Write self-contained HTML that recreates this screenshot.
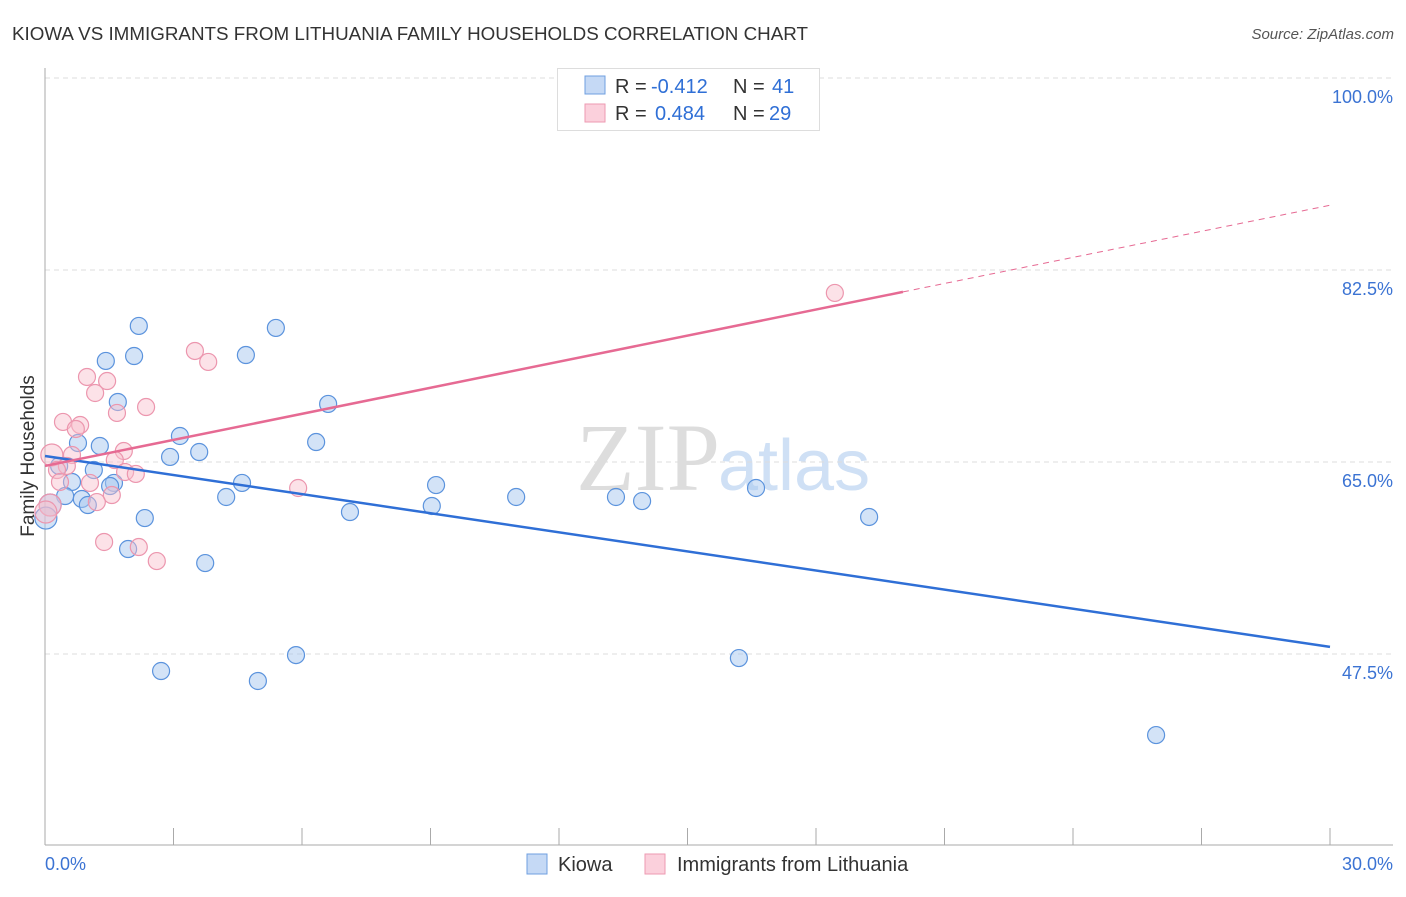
<!DOCTYPE html>
<html><head><meta charset="utf-8"><style>
body{margin:0;background:#fff;font-family:"Liberation Sans",sans-serif}
</style></head><body>
<svg id="chart" width="1406" height="892" xmlns="http://www.w3.org/2000/svg">
<text x="12" y="40" font-size="18" fill="#333" textLength="796" lengthAdjust="spacingAndGlyphs">KIOWA VS IMMIGRANTS FROM LITHUANIA FAMILY HOUSEHOLDS CORRELATION CHART</text>
<text x="1394" y="39" font-size="15" fill="#555" font-style="italic" text-anchor="end">Source: ZipAtlas.com</text>
<text x="720" y="490" font-size="96" fill="#ddd" text-anchor="end" font-family="Liberation Serif">ZIP</text>
<text x="718" y="490" font-size="72" fill="#cfe0f5">atlas</text>
<g id="grid"></g><g id="axes"></g><g id="marks"></g>
<text transform="translate(34,456) rotate(-90)" font-size="19" fill="#333" text-anchor="middle">Family Households</text>
<g>
<rect x="557.5" y="68.5" width="262" height="62" fill="#fff" stroke="#ddd"/>
<rect x="585" y="76" width="20" height="18" fill="#c5d9f5" stroke="#6f9fe0"/>
<rect x="585" y="104" width="20" height="18" fill="#fbd0dc" stroke="#ee9ab2"/>
<text x="615" y="93" font-size="20" fill="#333">R = <tspan x="651" fill="#2f6fd6">-0.412</tspan><tspan x="733">N = </tspan><tspan x="772" fill="#2f6fd6">41</tspan></text>
<text x="615" y="120" font-size="20" fill="#333">R = <tspan x="655" fill="#2f6fd6">0.484</tspan><tspan x="733">N = </tspan><tspan x="769" fill="#2f6fd6">29</tspan></text>
</g>
<g>
<rect x="527" y="854" width="20" height="20" fill="#c5d9f5" stroke="#6f9fe0"/>
<text x="558" y="871" font-size="20" fill="#333">Kiowa</text>
<rect x="645" y="854" width="20" height="20" fill="#fbd0dc" stroke="#ee9ab2"/>
<text x="677" y="871" font-size="20" fill="#333">Immigrants from Lithuania</text>
</g>
</svg>
<script>
const yTicks=[100,82.5,65,47.5];
const yTickLabels=["100.0%","82.5%","65.0%","47.5%"];
const xTickVals=[0,3,6,9,12,15,18,21,24,27,30];
const kiowaX=[2.19,5.39,1.42,2.08,4.69,1.70,6.61,3.15,0.77,1.28,6.33,2.92,3.60,1.14,0.33,0.63,1.61,1.52,4.60,9.13,16.60,0.47,0.86,1.00,4.23,11.00,13.33,13.94,9.03,7.12,2.33,19.24,0.12,0.02,1.94,3.74,5.86,16.20,2.71,4.97,25.94];
const kiowaY=[77.40,77.22,74.21,74.66,74.75,70.47,70.29,67.37,66.73,66.46,66.82,65.46,65.91,64.27,64.64,63.18,63.09,62.81,63.09,62.90,62.63,61.90,61.63,61.08,61.81,61.81,61.81,61.44,60.99,60.44,59.89,59.99,61.08,59.89,57.07,55.79,47.40,47.13,45.95,45.04,40.11];
const lithX=[18.44,3.50,3.81,0.98,1.45,1.17,2.36,1.68,0.42,0.82,0.72,1.84,0.63,0.16,1.63,0.51,0.28,1.87,2.12,1.05,0.35,5.91,1.56,1.21,0.12,1.38,2.19,2.61,0.02];
const lithY=[80.41,75.12,74.12,72.75,72.38,71.29,70.01,69.47,68.65,68.37,68.01,66.00,65.64,65.64,65.18,64.64,64.27,64.09,63.91,63.09,63.18,62.63,61.99,61.35,61.08,57.71,57.25,55.97,60.44];
const kiowaLine=[65.55,-0.580];
const lithLine=[64.64,0.792];
const lithSolidEnd=20.03;

const X=v=>45+v/30*1285;
const Y=v=>462-(v-65)*192/17.5;
const NS="http://www.w3.org/2000/svg";
function mk(parent,tag,attrs){const e=document.createElementNS(NS,tag);for(const k in attrs)e.setAttribute(k,attrs[k]);document.getElementById(parent).appendChild(e);return e;}
yTicks.forEach((t,i)=>{
 const l=mk('grid','line',{x1:45,x2:1393,y1:Y(t),y2:Y(t),stroke:'#ddd','stroke-dasharray':'5,4'});
 
 
 const tx=mk('grid','text',{x:1393,y:Y(t)+25,'font-size':18,fill:'#3b73d3','text-anchor':'end'});
 tx.textContent=yTickLabels[i];
 
 
});
const ya=mk('axes','line',{x1:45,x2:45,y1:68,y2:845,stroke:'#aaa'});


const xa=mk('axes','line',{x1:45,x2:1393,y1:845,y2:845,stroke:'#aaa'});


xTickVals.forEach(v=>{const t=mk('axes','line',{x1:X(v),x2:X(v),y1:828,y2:845,stroke:'#aaa'});
 
 });
[[0,'0.0%','start',45],[30,'30.0%','end',1393]].forEach(a=>{const t=mk('axes','text',{x:a[3],y:870,'font-size':18,fill:'#3b73d3','text-anchor':a[2]});t.textContent=a[1];
 
 });
kiowaX.forEach((x,i)=>{const c=mk('marks','circle',{cx:X(x),cy:Y(kiowaY[i]),r:(x<0.2?11:8.5),fill:'rgba(168,200,240,0.5)',stroke:'#5b93dd','stroke-width':1.2});
 
 });
lithX.forEach((x,i)=>{const c=mk('marks','circle',{cx:X(x),cy:Y(lithY[i]),r:(x<0.2?11:8.5),fill:'rgba(248,190,205,0.45)',stroke:'#ec96ae','stroke-width':1.2});
 
 });
const kl=mk('marks','line',{x1:X(0),y1:Y(kiowaLine[0]),x2:X(30),y2:Y(kiowaLine[0]+30*kiowaLine[1]),stroke:'#2f6fd6','stroke-width':2.5});


const ll=mk('marks','line',{x1:X(0),y1:Y(lithLine[0]),x2:X(lithSolidEnd),y2:Y(lithLine[0]+lithSolidEnd*lithLine[1]),stroke:'#e66a93','stroke-width':2.5});


const ld=mk('marks','line',{x1:X(lithSolidEnd),y1:Y(lithLine[0]+lithSolidEnd*lithLine[1]),x2:X(30),y2:Y(lithLine[0]+30*lithLine[1]),stroke:'#e66a93','stroke-width':1,'stroke-dasharray':'6,5'});


</script>
</body></html>
